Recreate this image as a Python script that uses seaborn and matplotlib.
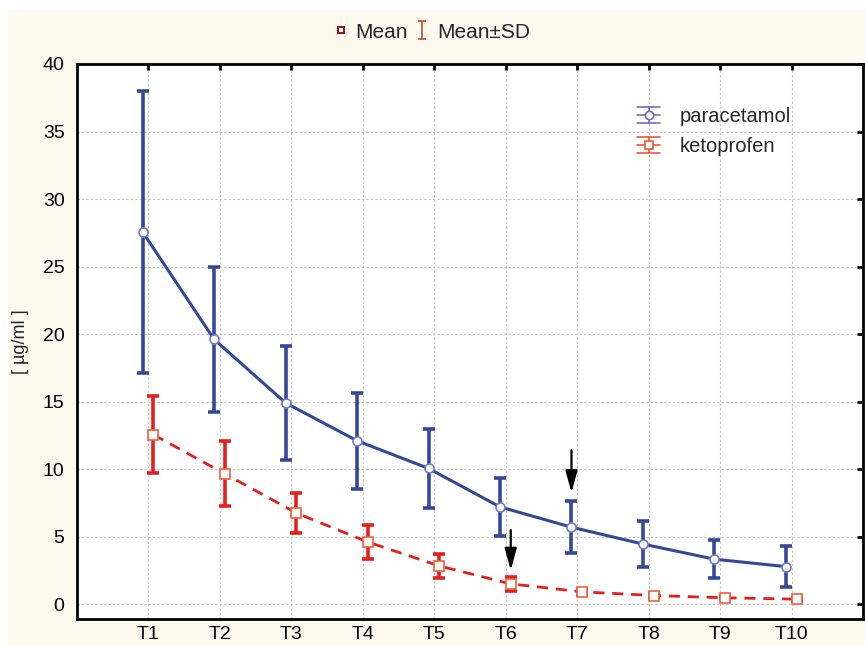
import numpy as np
import pandas as pd
import matplotlib
matplotlib.use("Agg")
import matplotlib.pyplot as plt
from matplotlib.lines import Line2D
from matplotlib.patches import Rectangle
from matplotlib.path import Path
from matplotlib.legend_handler import HandlerBase
import seaborn as sns

# ---- data ----
times = ["T1", "T2", "T3", "T4", "T5", "T6", "T7", "T8", "T9", "T10"]
para_mean = [27.55, 19.6, 14.9, 12.1, 10.05, 7.2, 5.7, 4.45, 3.33, 2.78]
para_sd = [10.45, 5.4, 4.22, 3.57, 2.95, 2.14, 1.93, 1.69, 1.4, 1.5]
keto_mean = [12.55, 9.65, 6.75, 4.6, 2.83, 1.5, 0.91, 0.64, 0.47, 0.37]
keto_sd = [2.85, 2.4, 1.48, 1.23, 0.86, 0.49, 0.2, 0.15, 0.1, 0.1]
series = ["paracetamol", "ketoprofen"]

sns.set_theme(style="white")
plt.rcParams["font.family"] = ["Liberation Sans", "DejaVu Sans"]

BLUE = "#34489a"
BLUE_M = "#7777c4"
RED = "#e51f1c"
RED_M = "#f0603c"
CREAM = "#fdf9ee"

fig = plt.figure(figsize=(8.65, 6.46), dpi=100, facecolor="white")
fig.patches.append(Rectangle((8 / 865, 0), 1 - 8 / 865, 1 - 10 / 646,
                             transform=fig.transFigure, facecolor=CREAM,
                             edgecolor="none", zorder=-10))
ax = fig.add_axes([77 / 865, (646 - 619) / 646, (863 - 77) / 865, (619 - 64) / 646])
ax.set_facecolor("white")

pos = np.arange(1, len(times) + 1)
df = pd.DataFrame({
    "x": np.concatenate([pos - 0.08, pos + 0.07]),
    "y": para_mean + keto_mean,
    "sd": para_sd + keto_sd,
    "drug": [series[0]] * len(times) + [series[1]] * len(times),
})
dp = df[df.drug == series[0]]
dk = df[df.drug == series[1]]

# error bars
ax.errorbar(dp.x, dp.y, yerr=dp.sd, fmt="none", ecolor=BLUE,
            elinewidth=2.6, capsize=4, capthick=2.6, zorder=3)
ax.errorbar(dk.x, dk.y, yerr=dk.sd, fmt="none", ecolor=RED,
            elinewidth=2.6, capsize=4, capthick=2.6, zorder=3)

# mean lines via seaborn
sns.lineplot(data=dp, x="x", y="y", ax=ax, color=BLUE, lw=2.2, marker="o",
             ms=6.5, mfc="white", mec=BLUE_M, mew=1.2, zorder=4, legend=False)
sns.lineplot(data=dk, x="x", y="y", ax=ax, color=RED, lw=2.0, marker="s",
             ms=6.5, mfc="white", mec=RED_M, mew=1.2, zorder=4, legend=False,
             dashes=False, linestyle=(0, (4, 2.8)))

# arrows
ax.annotate("", xy=(7 - 0.08, 8.05), xytext=(7 - 0.08, 11.6),
            arrowprops=dict(arrowstyle="-|>,head_length=1.1,head_width=0.3",
                            color="black", lw=1.6), zorder=6)
ax.annotate("", xy=(6 + 0.07, 2.3), xytext=(6 + 0.07, 5.7),
            arrowprops=dict(arrowstyle="-|>,head_length=1.1,head_width=0.3",
                            color="black", lw=1.6), zorder=6)

ax.set_xlim(0, 11)
ax.set_ylim(-1.1, 40)
ax.set_xticks(pos)
ax.set_xticklabels(times)
ax.set_yticks(np.arange(0, 41, 5))
ax.set_xlabel("")
ax.set_ylabel("[ µg/ml ]", fontsize=13)
ax.yaxis.set_label_coords((29 - 77) / 786, 0.5)

ax.grid(True, color="#c4c4c4", lw=0.8, linestyle=(0, (2, 2)))
ax.set_axisbelow(True)
for s in ax.spines.values():
    s.set_color("black")
    s.set_linewidth(2.0)
ax.tick_params(direction="in", length=4, width=2, top=True, right=True,
               labelsize=14, colors="black")
ax.tick_params(axis="y", pad=9)
ax.tick_params(axis="x", pad=5, labelsize=14)
ax.tick_params(labeltop=False, labelright=False)


# legend handle: horizontal line, wide caps, vertical bar and marker
class ErrHandle:
    def __init__(self, color, mcolor, marker):
        self.color, self.mcolor, self.marker = color, mcolor, marker


class ErrHandler(HandlerBase):
    def create_artists(self, legend, h, xd, yd, w, ht, fs, trans):
        cx, cy = w / 2 - xd, ht / 2 - yd
        top, bot = cy + ht * 0.55, cy - ht * 0.55
        arts = [
            Line2D([-xd, w - xd], [cy, cy], color=h.mcolor, lw=1.2),
            Line2D([-xd, w - xd], [top, top], color=h.mcolor, lw=1.2),
            Line2D([-xd, w - xd], [bot, bot], color=h.mcolor, lw=1.2),
            Line2D([cx, cx], [bot, top], color=h.mcolor, lw=1.2),
            Line2D([cx], [cy], marker=h.marker, ms=6, mfc="white",
                   mec=h.mcolor, mew=1.2, ls="none"),
        ]
        for a in arts:
            a.set_transform(trans)
        return arts


hp = ErrHandle(BLUE, "#6f6fbf", "o")
hk = ErrHandle(RED, "#f0553a", "s")
ax.legend(handles=[hp, hk], labels=series, loc="upper left",
          bbox_to_anchor=(0.69, 0.955), frameon=False, fontsize=14.5,
          handlelength=1.1, handletextpad=1.0, labelspacing=0.55,
          handler_map={ErrHandle: ErrHandler()})

# top legend
ibar = Path([(-0.45, -1), (0.45, -1), (0, -1), (0, 1), (-0.45, 1), (0.45, 1)],
            [Path.MOVETO, Path.LINETO, Path.MOVETO, Path.LINETO,
             Path.MOVETO, Path.LINETO])
h1 = Line2D([], [], marker="s", ls="none", mfc="white", mec="#8b1a1a", ms=5, mew=1.5)
h2 = Line2D([], [], marker=ibar, ls="none", mfc="none", mec="#b5543c", ms=13, mew=1.2)
fig.legend(handles=[h1, h2], labels=["Mean", "Mean±SD"], loc="center",
           bbox_to_anchor=(0.499, 1 - 32 / 646), ncol=2, frameon=False,
           fontsize=15, handlelength=0.7, handletextpad=0.35, columnspacing=0.35)

fig.savefig("out.png", dpi=100, facecolor=fig.get_facecolor())
